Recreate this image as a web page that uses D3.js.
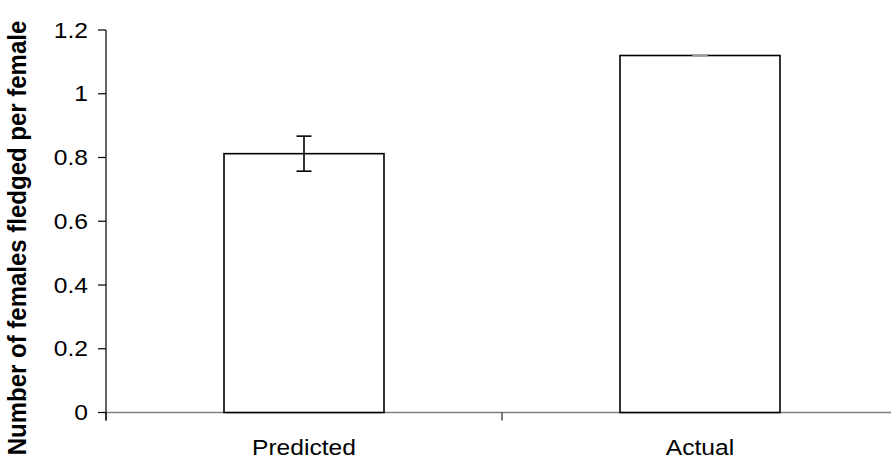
<!DOCTYPE html>
<html>
<head>
<meta charset="utf-8">
<script src="https://cdn.jsdelivr.net/npm/d3@7"></script>
<style>
  html, body { margin: 0; padding: 0; background: #fff; }
  svg { display: block; overflow: hidden; }
  text { font-family: Arial, "Liberation Sans", sans-serif; fill: #000; }
</style>
</head>
<body>
<svg id="chart" width="891" height="476"></svg>
<script>
// Females fledged per female: predicted vs actual
const categories = ["Predicted", "Actual"];
const values = [0.812, 1.12];
const errors = [0.055, 0];
const yTicks = [0, 0.2, 0.4, 0.6, 0.8, 1, 1.2];
const yTitle = "Number of females fledged per female";

const svg = d3.select("#chart");
const plotLeft = 106, plotRight = 898, plotTop = 30, plotBottom = 412.5;
const sx = 1.12; // horizontal stretch of the lettering

const y = d3.scaleLinear().domain([0, 1.2]).range([plotBottom, plotTop]);
const x = d3.scaleBand().domain(categories).range([plotLeft, plotRight])
  .paddingInner(0.596).paddingOuter(0.298);
const step = x.step();

// category axis (grey line, dark ticks between groups)
svg.append("line")
  .attr("x1", plotLeft).attr("x2", plotRight)
  .attr("y1", y(0)).attr("y2", y(0))
  .attr("stroke", "#808080").attr("stroke-width", 1.5);
const boundaries = d3.range(categories.length + 1).map(i => plotLeft + i * step);
svg.selectAll(".xtick").data(boundaries).join("line")
  .attr("x1", d => d).attr("x2", d => d)
  .attr("y1", y(0)).attr("y2", y(0) + 8)
  .attr("stroke", "#222").attr("stroke-width", 1.2);

// value axis
svg.append("line")
  .attr("x1", plotLeft).attr("x2", plotLeft)
  .attr("y1", y(1.2)).attr("y2", y(0) + 8)
  .attr("stroke", "#000").attr("stroke-width", 1.2);
svg.selectAll(".ytick").data(yTicks).join("line")
  .attr("x1", plotLeft - 8).attr("x2", plotLeft)
  .attr("y1", d => y(d)).attr("y2", d => y(d))
  .attr("stroke", "#000").attr("stroke-width", 1.2);
svg.selectAll(".ylab").data(yTicks).join("text")
  .attr("text-anchor", "end")
  .attr("dominant-baseline", "central")
  .attr("font-size", 22)
  .attr("transform", d => `translate(${plotLeft - 18},${y(d)}) scale(${sx},1)`)
  .text(d => d3.format("~g")(d));

// bars
svg.selectAll(".bar").data(values).join("rect")
  .attr("x", (d, i) => x(categories[i]))
  .attr("width", x.bandwidth())
  .attr("y", d => y(d))
  .attr("height", d => y(0) - y(d))
  .attr("fill", "#fff")
  .attr("stroke", "#000")
  .attr("stroke-width", 1.6);

// error bars
const cap = 7.5;
const eb = svg.selectAll(".err").data(values).join("g")
  .attr("stroke", (d, i) => errors[i] > 0 ? "#000" : "#999")
  .attr("stroke-width", 1.6);
eb.append("line")
  .attr("x1", (d, i) => x(categories[i]) + x.bandwidth() / 2)
  .attr("x2", (d, i) => x(categories[i]) + x.bandwidth() / 2)
  .attr("y1", (d, i) => y(d + errors[i]))
  .attr("y2", (d, i) => y(d - errors[i]));
eb.append("line")
  .attr("x1", (d, i) => x(categories[i]) + x.bandwidth() / 2 - cap)
  .attr("x2", (d, i) => x(categories[i]) + x.bandwidth() / 2 + cap)
  .attr("y1", (d, i) => y(d + errors[i]))
  .attr("y2", (d, i) => y(d + errors[i]));
eb.append("line")
  .attr("x1", (d, i) => x(categories[i]) + x.bandwidth() / 2 - cap)
  .attr("x2", (d, i) => x(categories[i]) + x.bandwidth() / 2 + cap)
  .attr("y1", (d, i) => y(d - errors[i]))
  .attr("y2", (d, i) => y(d - errors[i]));

// category labels
svg.selectAll(".xlab").data(categories).join("text")
  .attr("text-anchor", "middle")
  .attr("font-size", 22)
  .attr("transform", d => `translate(${x(d) + x.bandwidth() / 2},${455}) scale(${sx},1)`)
  .text(d => d);

// value-axis title
svg.append("text")
  .attr("text-anchor", "middle")
  .attr("font-size", 24)
  .attr("font-weight", "bold")
  .attr("transform", `translate(26,238) scale(1.1,1) rotate(-90)`)
  .text(yTitle);
</script>
</body>
</html>
